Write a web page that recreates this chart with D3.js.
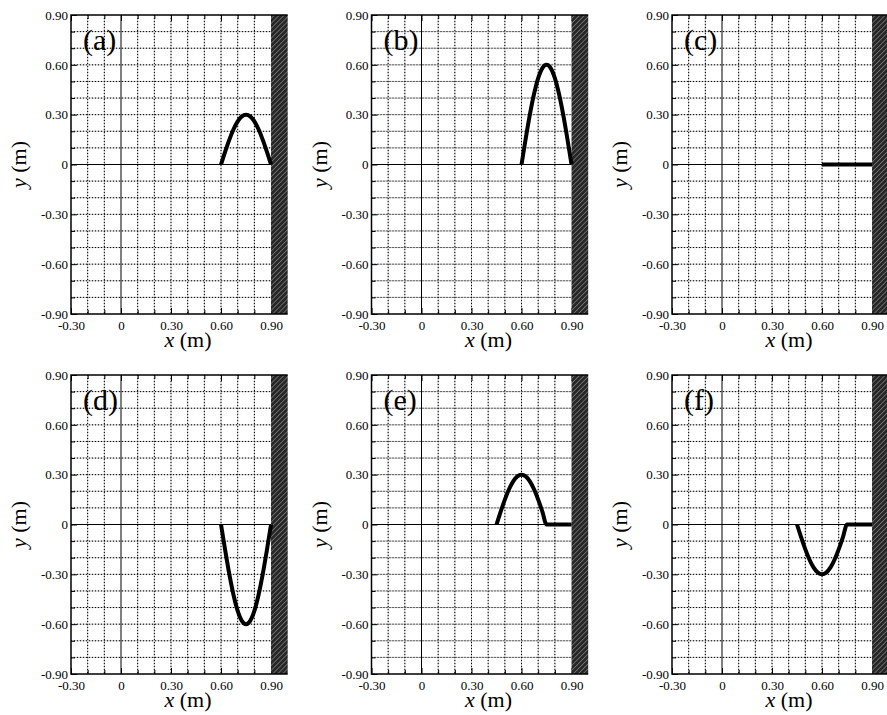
<!DOCTYPE html>
<html>
<head>
<meta charset="utf-8">
<script src="https://cdn.jsdelivr.net/npm/d3@7"></script>
<style>
  body { margin: 0; background: #fff; }
</style>
</head>
<body>
<div id="chart"></div>
<script>
// axis ticks and labels
const xTicks = [-0.3, 0, 0.3, 0.6, 0.9];
const xTickLabels = ["-0.30", "0", "0.30", "0.60", "0.90"];
const yTicks = [-0.9, -0.6, -0.3, 0, 0.3, 0.6, 0.9];
const yTickLabels = ["-0.90", "-0.60", "-0.30", "0", "0.30", "0.60", "0.90"];
const gridX = [-0.3, -0.2, -0.1, 0, 0.1, 0.2, 0.3, 0.4, 0.5, 0.6, 0.7, 0.8, 0.9];
const gridY = [-0.9, -0.8, -0.7, -0.6, -0.5, -0.4, -0.3, -0.2, -0.1, 0, 0.1, 0.2, 0.3, 0.4, 0.5, 0.6, 0.7, 0.8, 0.9];
const panelLabels = ["(a)", "(b)", "(c)", "(d)", "(e)", "(f)"];

// string shapes
const xA = [0.6, 0.625, 0.65, 0.675, 0.7, 0.725, 0.75, 0.775, 0.8, 0.825, 0.85, 0.875, 0.9];
const yA = [0, 0.078, 0.15, 0.212, 0.26, 0.29, 0.30, 0.29, 0.26, 0.212, 0.15, 0.078, 0];
const xB = [0.6, 0.625, 0.65, 0.675, 0.7, 0.725, 0.75, 0.775, 0.8, 0.825, 0.85, 0.875, 0.9];
const yB = [0, 0.155, 0.30, 0.424, 0.52, 0.58, 0.60, 0.58, 0.52, 0.424, 0.30, 0.155, 0];
const xC = [0.6, 0.9];
const yC = [0, 0];
const xD = [0.6, 0.625, 0.65, 0.675, 0.7, 0.725, 0.75, 0.775, 0.8, 0.825, 0.85, 0.875, 0.9];
const yD = [0, -0.155, -0.30, -0.424, -0.52, -0.58, -0.60, -0.58, -0.52, -0.424, -0.30, -0.155, 0];
const xE = [0.45, 0.475, 0.5, 0.525, 0.55, 0.575, 0.6, 0.625, 0.65, 0.675, 0.7, 0.725, 0.75, 0.9];
const yE = [0, 0.078, 0.15, 0.212, 0.26, 0.29, 0.30, 0.29, 0.26, 0.212, 0.15, 0.078, 0, 0];
const xF = [0.45, 0.475, 0.5, 0.525, 0.55, 0.575, 0.6, 0.625, 0.65, 0.675, 0.7, 0.725, 0.75, 0.9];
const yF = [0, -0.078, -0.15, -0.212, -0.26, -0.29, -0.30, -0.29, -0.26, -0.212, -0.15, -0.078, 0, 0];

const shapes = [[xA, yA], [xB, yB], [xC, yC], [xD, yD], [xE, yE], [xF, yF]];

const FONT = "Liberation Serif";

const width = 887, height = 715;
const plotW = 216.7, plotH = 299;
const lefts = [71, 371.5, 672];
const tops = [15, 375];

const svg = d3.select("#chart")
    .append("svg")
    .attr("width", width)
    .attr("height", height);

// hatch pattern for the wall
const pat = svg.append("defs").append("pattern")
    .attr("id", "hatch")
    .attr("patternUnits", "userSpaceOnUse")
    .attr("width", 3.5)
    .attr("height", 3.5)
    .attr("patternTransform", "rotate(45)");
pat.append("rect").attr("width", 3.5).attr("height", 3.5).attr("fill", "#262626");
pat.append("line")
    .attr("x1", 0).attr("y1", 0).attr("x2", 0).attr("y2", 3.5)
    .attr("stroke", "#a8a8a8").attr("stroke-width", 1);

const x = d3.scaleLinear().domain([-0.3, 1.0]).range([0, plotW]);
const y = d3.scaleLinear().domain([-0.9, 0.9]).range([plotH, 0]);

const line = d3.line()
    .x(function (d) { return x(d[0]); })
    .y(function (d) { return y(d[1]); })
    .curve(d3.curveMonotoneX);

shapes.forEach(function (s, i) {
    const col = i % 3, row = Math.floor(i / 3);
    const g = svg.append("g")
        .attr("transform", `translate(${lefts[col]},${tops[row]})`);

    const gx = gridX.filter(v => v > -0.3 && v < 0.9 && v !== 0);
    const gy = gridY.filter(v => v > -0.9 && v < 0.9 && v !== 0);

    // grid: grey line with black dots on top
    g.selectAll(".gx").data(gx)
        .enter().append("line")
        .attr("x1", d => x(d)).attr("x2", d => x(d))
        .attr("y1", 0).attr("y2", plotH)
        .attr("stroke", "#b8b8b8").attr("stroke-width", 1);
    g.selectAll(".gy").data(gy)
        .enter().append("line")
        .attr("x1", 0).attr("x2", x(0.9))
        .attr("y1", d => y(d)).attr("y2", d => y(d))
        .attr("stroke", "#b8b8b8").attr("stroke-width", 1);
    g.selectAll(".gx2").data(gx)
        .enter().append("line")
        .attr("x1", d => x(d)).attr("x2", d => x(d))
        .attr("y1", 0).attr("y2", plotH)
        .attr("stroke", "#000").attr("stroke-width", 1)
        .attr("stroke-dasharray", "1,2");
    g.selectAll(".gy2").data(gy)
        .enter().append("line")
        .attr("x1", 0).attr("x2", x(0.9))
        .attr("y1", d => y(d)).attr("y2", d => y(d))
        .attr("stroke", "#000").attr("stroke-width", 1)
        .attr("stroke-dasharray", "1,2");

    // zero lines
    g.append("line")
        .attr("x1", x(0)).attr("x2", x(0))
        .attr("y1", 0).attr("y2", plotH)
        .attr("stroke", "#000").attr("stroke-width", 1);
    g.append("line")
        .attr("x1", 0).attr("x2", x(0.9))
        .attr("y1", y(0)).attr("y2", y(0))
        .attr("stroke", "#000").attr("stroke-width", 1);

    // minor ticks on the frame
    const minorX = gridX.filter(v => xTicks.indexOf(v) < 0);
    const minorY = gridY.filter(v => yTicks.indexOf(v) < 0);
    g.append("g").attr("transform", `translate(0,${plotH})`)
        .call(d3.axisBottom(x).tickValues(minorX).tickSizeInner(-4).tickSizeOuter(0).tickFormat(""))
        .call(a => a.select(".domain").remove());
    g.append("g")
        .call(d3.axisTop(x).tickValues(minorX).tickSizeInner(-4).tickSizeOuter(0).tickFormat(""))
        .call(a => a.select(".domain").remove());
    g.append("g")
        .call(d3.axisLeft(y).tickValues(minorY).tickSizeInner(-4).tickSizeOuter(0).tickFormat(""))
        .call(a => a.select(".domain").remove());

    // major ticks + labels
    const bx = g.append("g").attr("transform", `translate(0,${plotH})`)
        .call(d3.axisBottom(x).tickValues(xTicks).tickSizeInner(-6).tickSizeOuter(0)
            .tickPadding(7).tickFormat((d, k) => xTickLabels[k]))
        .attr("font-family", FONT).attr("font-size", 13);
    bx.select(".domain").remove();
    bx.selectAll("text").attr("fill", "#000");

    g.append("g")
        .call(d3.axisTop(x).tickValues(xTicks).tickSizeInner(-6).tickSizeOuter(0).tickFormat(""))
        .call(a => a.select(".domain").remove());

    const ly = g.append("g")
        .call(d3.axisLeft(y).tickValues(yTicks).tickSizeInner(-6).tickSizeOuter(0)
            .tickPadding(3).tickFormat((d, k) => yTickLabels[k]))
        .attr("font-family", FONT).attr("font-size", 13);
    ly.select(".domain").remove();
    ly.selectAll("text").attr("fill", "#000");

    // wall
    g.append("rect")
        .attr("x", x(0.9)).attr("y", 0)
        .attr("width", x(1.0) - x(0.9)).attr("height", plotH)
        .attr("fill", "url(#hatch)");

    // frame
    g.append("path")
        .attr("d", `M${x(1.0)},0H0V${plotH}H${x(1.0)}`)
        .attr("fill", "none").attr("stroke", "#000").attr("stroke-width", 1.5);

    // string
    const pts = s[0].map((v, k) => [v, s[1][k]]);
    g.append("path")
        .datum(pts)
        .attr("fill", "none")
        .attr("stroke", "#000")
        .attr("stroke-width", 4)
        .attr("stroke-linejoin", "round")
        .attr("d", line);

    // panel label
    g.append("text")
        .attr("x", 12).attr("y", 35)
        .attr("font-family", FONT)
        .attr("font-size", 30)
        .text(panelLabels[i]);

    // axis titles
    const xt = g.append("text")
        .attr("x", 117).attr("y", plotH + 33)
        .attr("text-anchor", "middle")
        .attr("font-family", FONT)
        .attr("font-size", 22);
    xt.append("tspan").attr("font-style", "italic").text("x");
    xt.append("tspan").text(" (m)");

    const yt = g.append("text")
        .attr("transform", `translate(-45,${y(0)}) rotate(-90)`)
        .attr("text-anchor", "middle")
        .attr("font-family", FONT)
        .attr("font-size", 22);
    yt.append("tspan").attr("font-style", "italic").text("y");
    yt.append("tspan").text(" (m)");
});
</script>
</body>
</html>
